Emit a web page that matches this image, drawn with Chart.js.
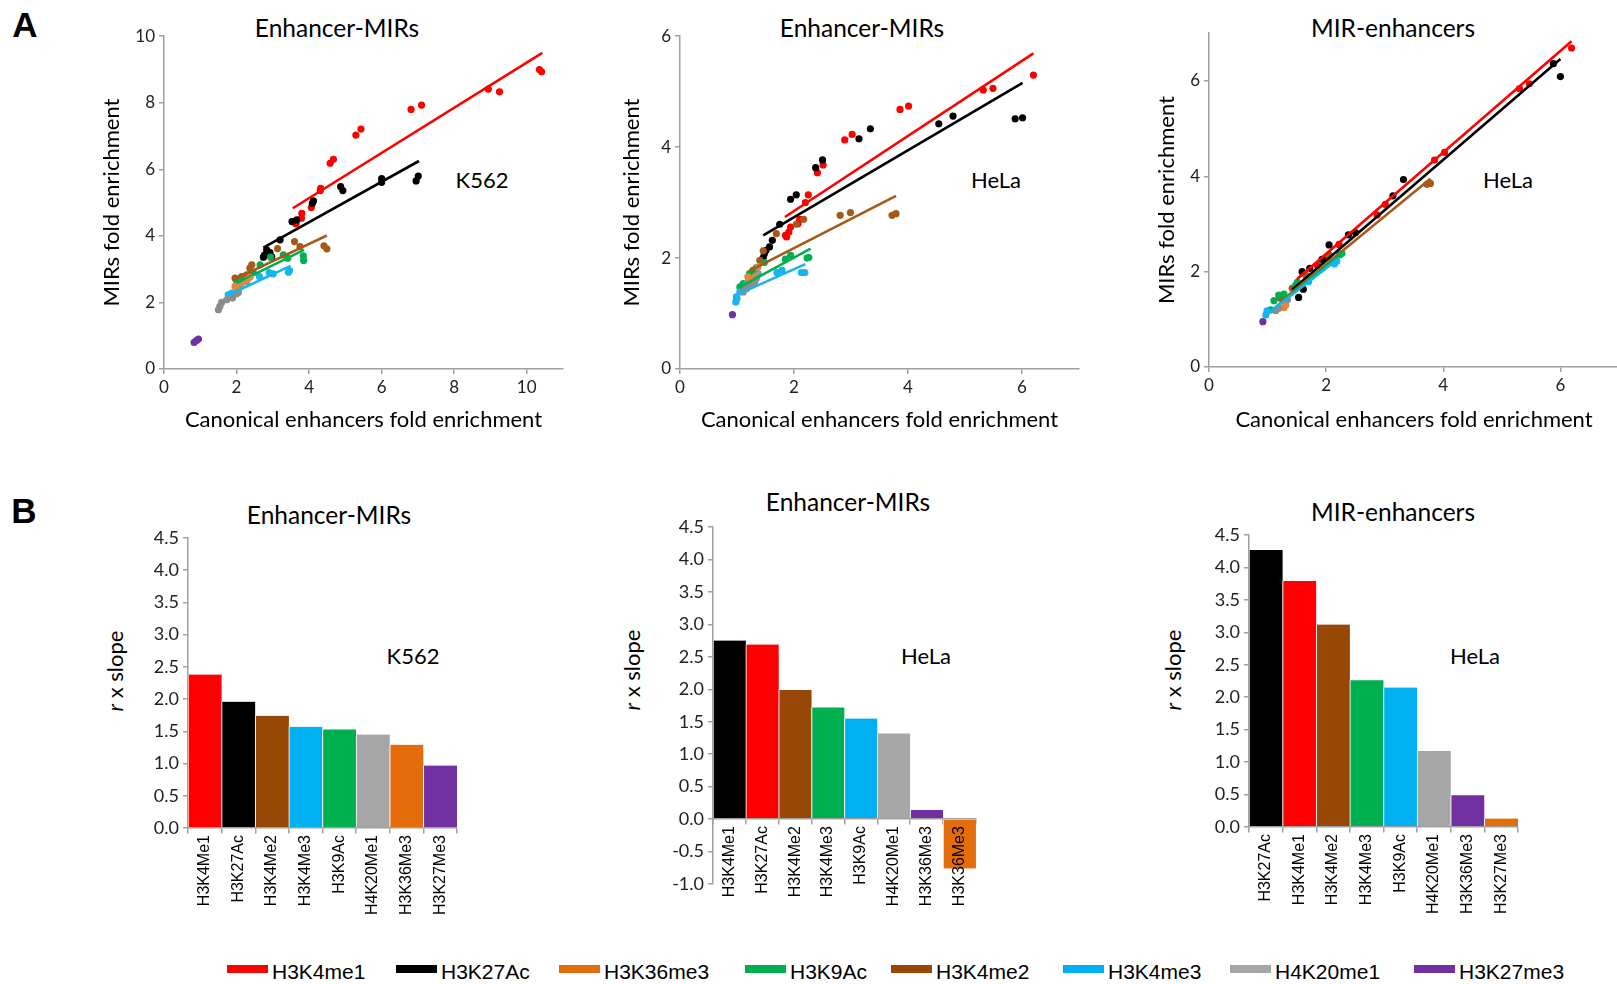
<!DOCTYPE html>
<html><head><meta charset="utf-8">
<script src="https://cdn.jsdelivr.net/npm/chart.js@4.4.0/dist/chart.umd.min.js"></script>
<style>
html,body{margin:0;padding:0;background:#fff;}
body{width:1617px;height:984px;overflow:hidden;position:relative;font-family:Lato,"Open Sans",sans-serif;}
canvas{position:absolute;}
.t{position:absolute;transform:translate(-50%,-50%);white-space:nowrap;color:#000;font-size:22px;line-height:1;}
.h{font-size:24.5px;}
.yl{position:absolute;transform:translate(-50%,-50%) rotate(-90deg);white-space:nowrap;color:#000;font-size:22px;line-height:1;}
.pl{position:absolute;transform:translate(-50%,-50%);font-family:"Liberation Sans",Arial,sans-serif;font-weight:bold;font-size:35px;line-height:1;}
.lgb{position:absolute;width:41px;height:8px;top:965px;}
.lgt{position:absolute;top:971px;transform:translateY(-50%);font-family:"Liberation Sans",Arial,sans-serif;font-size:21px;line-height:1;white-space:nowrap;}
</style></head><body>
<div class="pl" style="left:25px;top:24px">A</div>
<div class="pl" style="left:24px;top:510px">B</div>

<div class="t h" style="left:337px;top:28px">Enhancer-MIRs</div>
<div class="t h" style="left:862px;top:28px">Enhancer-MIRs</div>
<div class="t h" style="left:1393px;top:28px">MIR-enhancers</div>
<div class="t" style="left:482px;top:180px">K562</div>
<div class="t" style="left:996px;top:180px">HeLa</div>
<div class="t" style="left:1508px;top:180px">HeLa</div>

<div class="t h" style="left:329px;top:515px">Enhancer-MIRs</div>
<div class="t h" style="left:848px;top:502px">Enhancer-MIRs</div>
<div class="t h" style="left:1393px;top:512px">MIR-enhancers</div>
<div class="t" style="left:413px;top:656px">K562</div>
<div class="t" style="left:926px;top:656px">HeLa</div>
<div class="t" style="left:1475px;top:656px">HeLa</div>
<div class="yl" style="left:115px;top:671px"><i>r</i> x slope</div>
<div class="yl" style="left:632px;top:670px"><i>r</i> x slope</div>
<div class="yl" style="left:1173px;top:670px"><i>r</i> x slope</div>

<div id="legend"></div>

<script>
// ---------- Panel A1: K562, Enhancer-MIRs ----------
const a1_H3K4me1_x = [10.35,10.41,9.25,8.94,7.1,6.81,5.43,5.29,4.67,4.58,4.32,4.31,4.06,3.8,3.79,3.64,3.55];
const a1_H3K4me1_y = [9.0,8.93,8.33,8.41,7.93,7.8,7.21,7.03,6.3,6.18,5.43,5.36,4.85,4.68,4.53,4.36,4.43];
const a1_H3K27Ac_x = [7.01,6.95,6.0,6.0,4.87,4.93,4.12,4.09,3.66,3.53,3.2,2.83,2.77,2.92,2.97,2.74];
const a1_H3K27Ac_y = [5.8,5.65,5.72,5.61,5.48,5.36,5.05,4.98,4.48,4.43,3.88,3.58,3.42,3.5,3.37,3.36];
const a1_H3K4me2_x = [3.6,3.75,4.41,4.49,3.13,2.42,2.37,1.96,2.0,2.14,2.28];
const a1_H3K4me2_y = [3.83,3.68,3.7,3.61,3.62,3.13,3.03,2.73,2.66,2.78,2.83];
const a1_H3K9Ac_x = [3.84,3.85,3.41,3.29,2.94,2.65,2.46,2.1,2.03];
const a1_H3K9Ac_y = [3.4,3.26,3.33,3.43,3.36,3.13,2.9,2.68,2.58];
const a1_H3K4me3_x = [3.46,3.43,3.01,2.9,2.63,2.28,2.1,1.87,1.77];
const a1_H3K4me3_y = [2.96,2.91,2.86,2.9,2.78,2.63,2.48,2.28,2.23];
const a1_H3K36me3_x = [1.96,2.0,2.14,2.28,2.37];
const a1_H3K36me3_y = [2.48,2.4,2.58,2.68,2.76];
const a1_H4K20me1_x = [1.5,1.54,1.59,1.73,1.89,2.0,2.05];
const a1_H4K20me1_y = [1.78,1.88,2.0,2.08,2.13,2.26,2.3];
const a1_H3K27me3_x = [0.83,0.9,0.95];
const a1_H3K27me3_y = [0.8,0.86,0.9];
// fitted lines (end points)
const a1_fit_H3K4me1_x = [3.55,10.43], a1_fit_H3K4me1_y = [4.83,9.5];
const a1_fit_H3K27Ac_x = [2.74,7.03], a1_fit_H3K27Ac_y = [3.65,6.25];
const a1_fit_H3K4me2_x = [1.91,4.49], a1_fit_H3K4me2_y = [2.68,4.01];
const a1_fit_H3K9Ac_x = [2.0,3.86], a1_fit_H3K9Ac_y = [2.58,3.58];
const a1_fit_H3K4me3_x = [1.73,3.49], a1_fit_H3K4me3_y = [2.2,3.1];
const a1_fit_H3K36me3_x = [1.96,2.46], a1_fit_H3K36me3_y = [2.43,2.78];

// ---------- Panel A2: HeLa, Enhancer-MIRs ----------
const a2_H3K4me1_x = [6.2,5.49,5.32,4.01,3.86,3.02,2.89,2.51,2.41,2.25,2.2,2.1,2.07,1.94,1.91,1.85,1.87];
const a2_H3K4me1_y = [5.3,5.06,5.03,4.74,4.68,4.23,4.13,3.68,3.54,3.14,3.0,2.7,2.62,2.56,2.47,2.41,2.38];
const a2_H3K27Ac_x = [6.01,5.88,4.79,4.54,3.34,3.14,2.5,2.38,2.04,1.94,1.75,1.62,1.57,1.51,1.48,1.46];
const a2_H3K27Ac_y = [4.53,4.51,4.56,4.42,4.33,4.15,3.77,3.63,3.14,3.06,2.61,2.32,2.2,2.14,2.08,2.01];
const a2_H3K4me2_x = [3.79,3.72,2.99,2.81,2.17,2.04,1.69,1.46,1.4,1.28,1.22];
const a2_H3K4me2_y = [2.8,2.77,2.82,2.77,2.7,2.61,2.44,2.13,1.96,1.78,1.68];
const a2_H3K9Ac_x = [2.26,2.23,1.94,1.85,1.48,1.34,1.22,1.11,1.05];
const a2_H3K9Ac_y = [2.01,2.0,2.05,1.98,1.92,1.83,1.72,1.54,1.48];
const a2_H3K4me3_x = [2.19,2.13,1.79,1.7,1.37,1.17,1.05,0.99,0.98,1.0];
const a2_H3K4me3_y = [1.74,1.74,1.78,1.74,1.72,1.54,1.39,1.3,1.21,1.27];
const a2_H3K36me3_x = [1.19,1.25,1.37];
const a2_H3K36me3_y = [1.66,1.6,1.84];
const a2_H4K20me1_x = [1.11,1.17,1.25,1.31,1.34];
const a2_H4K20me1_y = [1.39,1.45,1.51,1.57,1.63];
const a2_H3K27me3_x = [0.92];
const a2_H3K27me3_y = [0.98];
const a2_fit_H3K4me1_x = [1.84,6.2], a2_fit_H3K4me1_y = [2.74,5.69];
const a2_fit_H3K27Ac_x = [1.46,6.01], a2_fit_H3K27Ac_y = [2.41,5.16];
const a2_fit_H3K4me2_x = [1.22,3.79], a2_fit_H3K4me2_y = [1.77,3.12];
const a2_fit_H3K9Ac_x = [1.04,2.29], a2_fit_H3K9Ac_y = [1.47,2.17];
const a2_fit_H3K4me3_x = [1.02,2.2], a2_fit_H3K4me3_y = [1.35,1.89];
const a2_fit_H3K36me3_x = [1.15,1.4], a2_fit_H3K36me3_y = [1.6,1.75];

// ---------- Panel A3: HeLa, MIR-enhancers ----------
const a3_H3K4me1_x = [6.19,5.47,5.3,4.02,3.85,3.01,2.87,2.22,2.02,1.85];
const a3_H3K4me1_y = [6.69,5.94,5.84,4.5,4.34,3.41,3.19,2.57,2.31,2.13];
const a3_H3K27Ac_x = [6.0,5.88,3.32,3.14,2.5,2.38,2.05,1.93,1.72,1.59,1.61,1.53];
const a3_H3K27Ac_y = [6.09,6.36,3.93,3.59,2.82,2.77,2.56,2.26,2.07,2.0,1.63,1.46];
const a3_H3K4me2_x = [3.78,3.72,2.05,1.65,1.42,1.22];
const a3_H3K4me2_y = [3.85,3.83,2.35,1.93,1.65,1.44];
const a3_H3K9Ac_x = [2.27,2.23,1.51,1.48,1.28,1.19,1.11,1.05];
const a3_H3K9Ac_y = [2.38,2.35,1.78,1.72,1.53,1.51,1.39,1.2];
const a3_H3K4me3_x = [2.18,2.14,1.7,0.99,0.97];
const a3_H3K4me3_y = [2.21,2.16,1.79,1.18,1.09];
const a3_H3K36me3_x = [1.28,1.31];
const a3_H3K36me3_y = [1.25,1.3];
const a3_H4K20me1_x = [1.14,1.19,1.34];
const a3_H4K20me1_y = [1.18,1.23,1.41];
const a3_H3K27me3_x = [0.92];
const a3_H3K27me3_y = [0.95];
const a3_fit_H3K4me1_x = [1.5,6.19], a3_fit_H3K4me1_y = [1.84,6.83];
const a3_fit_H3K27Ac_x = [1.42,6.0], a3_fit_H3K27Ac_y = [1.62,6.46];
const a3_fit_H3K4me2_x = [1.22,3.78], a3_fit_H3K4me2_y = [1.37,3.95];
const a3_fit_H3K9Ac_x = [1.04,2.3], a3_fit_H3K9Ac_y = [1.16,2.42];
const a3_fit_H3K4me3_x = [0.94,2.22], a3_fit_H3K4me3_y = [1.06,2.28];

// ---------- Panel B: r x slope bars ----------
const b1_labels = ['H3K4Me1','H3K27Ac','H3K4Me2','H3K4Me3','H3K9Ac','H4K20Me1','H3K36Me3','H3K27Me3'];
const b1_values = [2.38,1.96,1.74,1.57,1.53,1.45,1.29,0.97];
const b2_labels = ['H3K4Me1','H3K27Ac','H3K4Me2','H3K4Me3','H3K9Ac','H4K20Me1','H3K36Me3','H3K36Me3'];
const b2_values = [2.75,2.69,1.99,1.72,1.55,1.32,0.14,-0.76];
const b3_labels = ['H3K27Ac','H3K4Me1','H3K4Me2','H3K4Me3','H3K9Ac','H4K20Me1','H3K36Me3','H3K27Me3'];
const b3_values = [4.27,3.79,3.12,2.26,2.15,1.17,0.49,0.13];

const legendLabels = ['H3K4me1','H3K27Ac','H3K36me3','H3K9Ac','H3K4me2','H3K4me3','H4K20me1','H3K27me3'];

// ---------- styling ----------
const C = {
  red:'#FF0000', black:'#000000', orange:'#E46C0A', green:'#00B050',
  brown:'#974706', blue:'#00B0F0', grey:'#A6A6A6', purple:'#7030A0'
};
const SC = { // scatter shades
  red:'#FF0000', black:'#000000', orange:'#E8853A', green:'#00B050',
  brown:'#A65A1A', blue:'#18B4F0', grey:'#8C8C8C', purple:'#7030A0'
};
const b1_colors = [C.red,C.black,C.brown,C.blue,C.green,C.grey,C.orange,C.purple];
const b2_colors = [C.black,C.red,C.brown,C.green,C.blue,C.grey,C.purple,C.orange];
const b3_colors = [C.black,C.red,C.brown,C.green,C.blue,C.grey,C.purple,C.orange];
const legendColors = [C.red,C.black,C.orange,C.green,C.brown,C.blue,C.grey,C.purple];
const legendBoxX = [227,396,559,745,891,1063,1230,1414];

const FONT = 'Lato';
const AXIS = '#A0A0A0';

function pts(xs, ys){ return xs.map((x,i)=>({x:x, y:ys[i]})); }
function mkCanvas(left, top, w, h){
  const c = document.createElement('canvas');
  c.width = w; c.height = h;
  c.style.left = left+'px'; c.style.top = top+'px';
  c.style.width = w+'px'; c.style.height = h+'px';
  document.body.appendChild(c);
  return c;
}
const evenOnly = s => { s.ticks = s.ticks.filter(t => Math.abs(t.value % 2) < 1e-9); };

function scatterChart(box, xMax, yMax, series, fits){
  const c = mkCanvas(box.left, box.top, box.w, box.h);
  const ds = [];
  fits.forEach(f => ds.push({data:pts(f.x,f.y), showLine:true, borderColor:f.color, borderWidth:2.6,
    pointRadius:0, fill:false, order:0}));
  series.forEach(s => ds.push({data:pts(s.x,s.y), showLine:false, backgroundColor:s.color,
    borderColor:s.color, pointRadius:3.6, pointBorderWidth:0, order:1}));
  new Chart(c, {
    type:'scatter',
    data:{datasets:ds},
    options:{
      responsive:false, animation:false, events:[],
      layout:{padding:{top:box.pt, right:box.pr, left:0, bottom:0}},
      plugins:{legend:{display:false}, tooltip:{enabled:false}},
      scales:{
        x:{type:'linear', min:0, max:xMax,
          ticks:{stepSize:2, font:{family:FONT,size:17}, color:'#222', padding:3, maxRotation:0},
          afterBuildTicks: evenOnly,
          grid:{drawOnChartArea:false, drawTicks:true, tickLength:5, color:AXIS, lineWidth:1.5},
          border:{color:AXIS, width:1.5},
          title:{display:true, text:'Canonical enhancers fold enrichment', font:{family:FONT,size:22}, color:'#000', padding:0},
          afterFit: s => { s.height = box.xh; }
        },
        y:{type:'linear', min:0, max:yMax,
          ticks:{stepSize:2, font:{family:FONT,size:17}, color:'#222', padding:4},
          afterBuildTicks: evenOnly,
          grid:{drawOnChartArea:false, drawTicks:true, tickLength:5, color:AXIS, lineWidth:1.5},
          border:{color:AXIS, width:1.5},
          title:{display:true, text:'MIRs fold enrichment', font:{family:FONT,size:22}, color:'#000', padding:0},
          afterFit: s => { s.width = box.yw; }
        }
      }
    }
  });
}

function barChart(box, labels, values, colors, yMin){
  const c = mkCanvas(box.left, box.top, box.w, box.h);
  new Chart(c, {
    type:'bar',
    data:{labels:labels, datasets:[{data:values, backgroundColor:colors, borderColor:'#FFFFFF',
      borderWidth:{left:1, right:0, top:0, bottom:0}, borderSkipped:false, barPercentage:1, categoryPercentage:1}]},
    options:{
      responsive:false, animation:false, events:[],
      layout:{padding:{top:box.pt, right:box.pr, left:0, bottom:box.pb}},
      plugins:{legend:{display:false}, tooltip:{enabled:false}},
      scales:{
        x:{type:'category', position:{y:0},
          ticks:{z:1, font:{family:'Liberation Sans',size:16}, color:'#000', minRotation:90, maxRotation:90, autoSkip:false, padding:2},
          grid:{drawOnChartArea:false, drawTicks:true, tickLength:5, color:AXIS, lineWidth:1.5, offset:true},
          border:{z:1, color:AXIS, width:1.5}
        },
        y:{type:'linear', min:yMin, max:4.5,
          ticks:{stepSize:0.5, font:{family:FONT,size:18}, color:'#222', padding:4, callback:v=>Number(v).toFixed(1)},
          grid:{drawOnChartArea:false, drawTicks:true, tickLength:5, color:AXIS, lineWidth:1.5},
          border:{color:AXIS, width:1.5},
          afterFit: s => { s.width = box.yw; }
        }
      }
    }
  });
}

const ALL = {a1_H3K4me1_x,a1_H3K4me1_y,a1_H3K27Ac_x,a1_H3K27Ac_y,a1_H3K4me2_x,a1_H3K4me2_y,a1_H3K9Ac_x,a1_H3K9Ac_y,a1_H3K4me3_x,a1_H3K4me3_y,a1_H3K36me3_x,a1_H3K36me3_y,a1_H4K20me1_x,a1_H4K20me1_y,a1_H3K27me3_x,a1_H3K27me3_y,
a1_fit_H3K4me1_x,a1_fit_H3K4me1_y,a1_fit_H3K27Ac_x,a1_fit_H3K27Ac_y,a1_fit_H3K4me2_x,a1_fit_H3K4me2_y,a1_fit_H3K9Ac_x,a1_fit_H3K9Ac_y,a1_fit_H3K4me3_x,a1_fit_H3K4me3_y,a1_fit_H3K36me3_x,a1_fit_H3K36me3_y,
a2_H3K4me1_x,a2_H3K4me1_y,a2_H3K27Ac_x,a2_H3K27Ac_y,a2_H3K4me2_x,a2_H3K4me2_y,a2_H3K9Ac_x,a2_H3K9Ac_y,a2_H3K4me3_x,a2_H3K4me3_y,a2_H3K36me3_x,a2_H3K36me3_y,a2_H4K20me1_x,a2_H4K20me1_y,a2_H3K27me3_x,a2_H3K27me3_y,
a2_fit_H3K4me1_x,a2_fit_H3K4me1_y,a2_fit_H3K27Ac_x,a2_fit_H3K27Ac_y,a2_fit_H3K4me2_x,a2_fit_H3K4me2_y,a2_fit_H3K9Ac_x,a2_fit_H3K9Ac_y,a2_fit_H3K4me3_x,a2_fit_H3K4me3_y,a2_fit_H3K36me3_x,a2_fit_H3K36me3_y,
a3_H3K4me1_x,a3_H3K4me1_y,a3_H3K27Ac_x,a3_H3K27Ac_y,a3_H3K4me2_x,a3_H3K4me2_y,a3_H3K9Ac_x,a3_H3K9Ac_y,a3_H3K4me3_x,a3_H3K4me3_y,a3_H3K36me3_x,a3_H3K36me3_y,a3_H4K20me1_x,a3_H4K20me1_y,a3_H3K27me3_x,a3_H3K27me3_y,
a3_fit_H3K4me1_x,a3_fit_H3K4me1_y,a3_fit_H3K27Ac_x,a3_fit_H3K27Ac_y,a3_fit_H3K4me2_x,a3_fit_H3K4me2_y,a3_fit_H3K9Ac_x,a3_fit_H3K9Ac_y,a3_fit_H3K4me3_x,a3_fit_H3K4me3_y};

const SCOL = {H3K4me1:SC.red,H3K27Ac:SC.black,H3K4me2:SC.brown,H3K9Ac:SC.green,H3K4me3:SC.blue,H3K36me3:SC.orange,H4K20me1:SC.grey,H3K27me3:SC.purple};
function series(prefix){
  const names = ['H4K20me1','H3K36me3','H3K4me3','H3K9Ac','H3K4me2','H3K27me3','H3K27Ac','H3K4me1'];
  const out = [];
  names.forEach(n => {
    const xs = ALL[prefix+'_'+n+'_x'];
    if (xs) out.push({x:xs, y:ALL[prefix+'_'+n+'_y'], color:SCOL[n]});
  });
  return out;
}
function fitsOf(prefix){
  const names = ['H3K36me3','H3K4me3','H3K9Ac','H3K4me2','H3K27Ac','H3K4me1'];
  const out = [];
  names.forEach(n => {
    const xs = ALL[prefix+'_fit_'+n+'_x'];
    if (xs) out.push({x:xs, y:ALL[prefix+'_fit_'+n+'_y'], color:SCOL[n]});
  });
  return out;
}

scatterChart({left:99, top:22, w:484, h:411, yw:65, xh:64, pt:14, pr:20}, 11, 10, series('a1'), fitsOf('a1'));
scatterChart({left:619, top:22, w:480, h:411, yw:61, xh:64, pt:14, pr:20}, 7, 6, series('a2'), fitsOf('a2'));
scatterChart({left:1154, top:19, w:485, h:414, yw:55, xh:66, pt:14, pr:20}, 7, 7, series('a3'), fitsOf('a3'));

barChart({left:128, top:523, w:334, h:405, yw:60, pt:15, pr:5, pb:100}, b1_labels, b1_values, b1_colors, 0);
barChart({left:653, top:512, w:328, h:422, yw:60, pt:15, pr:5, pb:50}, b2_labels, b2_values, b2_colors, -1);
barChart({left:1189, top:520, w:334, h:407, yw:60, pt:15, pr:5, pb:100}, b3_labels, b3_values, b3_colors, 0);

// legend (HTML)
const lg = document.getElementById('legend');
legendLabels.forEach((name, i) => {
  const b = document.createElement('div');
  b.className = 'lgb'; b.style.left = legendBoxX[i]+'px'; b.style.background = legendColors[i];
  lg.appendChild(b);
  const t = document.createElement('div');
  t.className = 'lgt'; t.style.left = (legendBoxX[i]+45)+'px'; t.textContent = name;
  lg.appendChild(t);
});
</script>
</body></html>
